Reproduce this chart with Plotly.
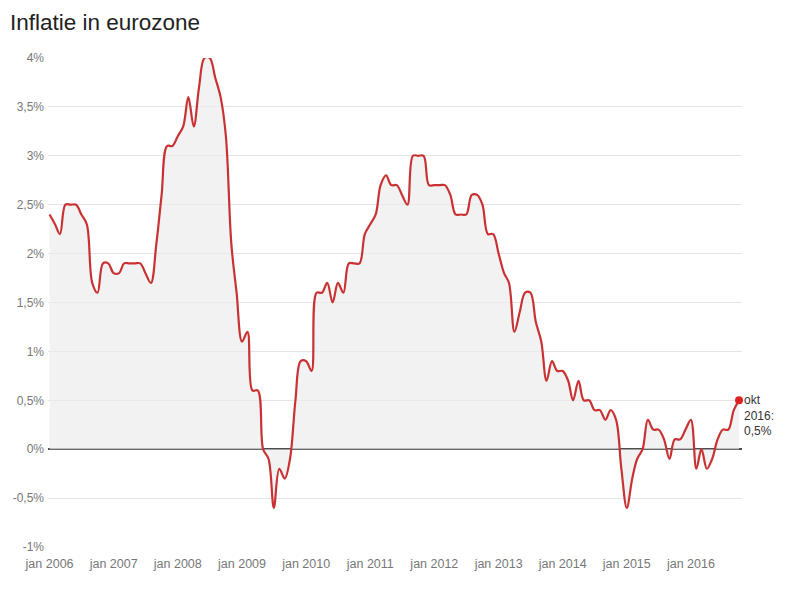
import pandas as pd
import plotly.graph_objects as go

# Monthly eurozone inflation (%), jan 2006 – okt 2016
months = pd.date_range("2006-01-01", "2016-10-01", freq="MS")
inflation = [
    # 2006
    2.4, 2.3, 2.2, 2.5, 2.5, 2.5, 2.4, 2.3, 1.7, 1.6, 1.9, 1.9,
    # 2007
    1.8, 1.8, 1.9, 1.9, 1.9, 1.9, 1.8, 1.7, 2.1, 2.6, 3.1, 3.1,
    # 2008
    3.2, 3.3, 3.6, 3.3, 3.7, 4.0, 4.0, 3.8, 3.6, 3.2, 2.1, 1.6,
    # 2009
    1.1, 1.2, 0.6, 0.6, 0.0, -0.1, -0.6, -0.2, -0.3, -0.1, 0.5, 0.9,
    # 2010
    0.9, 0.8, 1.6, 1.6, 1.7, 1.5, 1.7, 1.6, 1.9, 1.9, 1.9, 2.2,
    # 2011
    2.3, 2.4, 2.7, 2.8, 2.7, 2.7, 2.6, 2.5, 3.0, 3.0, 3.0, 2.7,
    # 2012
    2.7, 2.7, 2.7, 2.6, 2.4, 2.4, 2.4, 2.6, 2.6, 2.5, 2.2, 2.2,
    # 2013
    2.0, 1.8, 1.7, 1.2, 1.4, 1.6, 1.6, 1.3, 1.1, 0.7, 0.9, 0.8,
    # 2014
    0.8, 0.7, 0.5, 0.7, 0.5, 0.5, 0.4, 0.4, 0.3, 0.4, 0.3, -0.2,
    # 2015
    -0.6, -0.3, -0.1, 0.0, 0.3, 0.2, 0.2, 0.1, -0.1, 0.1, 0.1, 0.2,
    # 2016
    0.3, -0.2, 0.0, -0.2, -0.1, 0.1, 0.2, 0.2, 0.4, 0.5,
]

y_tickvals = [-1, -0.5, 0, 0.5, 1, 1.5, 2, 2.5, 3, 3.5, 4]
y_ticktext = ["-1%", "-0,5%", "0%", "0,5%", "1%", "1,5%", "2%", "2,5%", "3%", "3,5%", "4%"]
x_tickvals = [f"{y}-01-01" for y in range(2006, 2017)]
x_ticktext = [f"jan {y}" for y in range(2006, 2017)]
end_label = "okt<br>2016:<br>0,5%"

LINE = "#c93232"
FONT = "Liberation Sans, Arial, sans-serif"

fig = go.Figure()
fig.add_trace(go.Scatter(
    x=months, y=inflation, mode="lines",
    line=dict(color=LINE, width=2.2, shape="spline", smoothing=1.0),
    fill="tozeroy", fillcolor="rgba(236,236,236,0.7)",
    hoverinfo="skip", showlegend=False,
))
fig.add_trace(go.Scatter(
    x=[months[-1]], y=[inflation[-1]], mode="markers",
    marker=dict(color="#dd2222", size=8),
    cliponaxis=False, hoverinfo="skip", showlegend=False,
))

fig.add_annotation(
    x=months[-1], y=inflation[-1], xref="x", yref="y",
    text=end_label, showarrow=False, xanchor="left", yanchor="top",
    xshift=3, yshift=9, align="left",
    font=dict(family=FONT, size=12, color="#333333"),
)

fig.update_layout(
    width=800, height=606,
    margin=dict(l=40, r=66, t=50, b=67, autoexpand=False),
    paper_bgcolor="white", plot_bgcolor="white",
    title=dict(text="Inflatie in eurozone", x=0.0025, xanchor="left", y=0.977, yanchor="middle",
               font=dict(family=FONT, size=22.5, color="#222222")),
    font=dict(family=FONT, size=12, color="#777777"),
)
fig.update_xaxes(
    range=["2005-12-23", "2016-10-18"],
    tickvals=x_tickvals, ticktext=x_ticktext,
    showgrid=False, zeroline=False, showline=False,
    ticks="outside", ticklen=5, tickcolor="rgba(0,0,0,0)",
    tickfont=dict(size=12.5, color="#777777"), automargin=False,
)
fig.update_yaxes(
    range=[-1, 4], tickvals=y_tickvals, ticktext=y_ticktext,
    showgrid=True, gridcolor="#e5e5e5", gridwidth=1,
    zeroline=True, zerolinecolor="#4d4d4d", zerolinewidth=2,
    showline=False, ticks="", ticklabelstandoff=3,
    tickfont=dict(size=12, color="#777777"), automargin=False,
)

fig.write_html("out.html")
